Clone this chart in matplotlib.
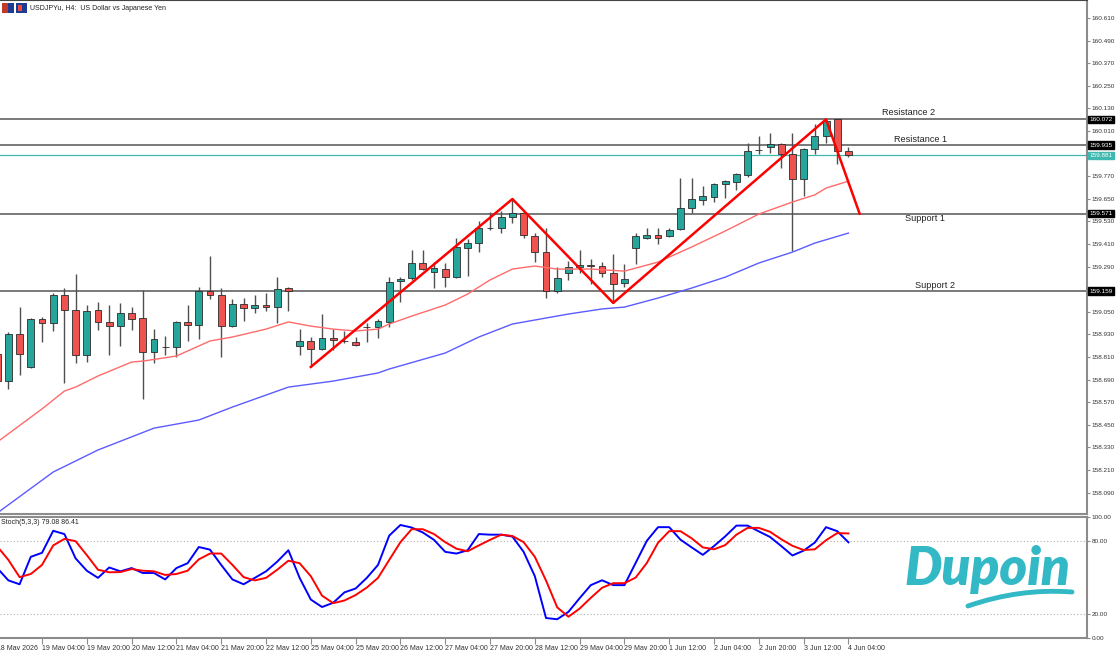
import matplotlib
matplotlib.use("Agg")
import matplotlib.pyplot as plt
import matplotlib.transforms as mtransforms
from matplotlib.patches import Rectangle, PathPatch
from matplotlib.path import Path
import numpy as np

plt.rcParams['font.family'] = ['Liberation Sans', 'DejaVu Sans']

# USDJPYu H4 bars, 18 May 2026 12:00 -> 4 Jun 2026 04:00
opens = [158.826, 158.682, 158.932, 158.757, 159.012, 158.990, 159.139, 159.059, 158.820, 159.059,
         158.996, 158.974, 159.043, 159.017, 158.836, 158.863, 158.863, 158.996, 158.980, 159.160,
         159.139, 158.974, 159.091, 159.070, 159.086, 159.075, 159.176, 158.868, 158.895, 158.853,
         158.911, 158.895, 158.889, 158.969, 158.969, 158.996, 159.213, 159.229, 159.309, 159.261,
         159.277, 159.234, 159.389, 159.415, 159.495, 159.495, 159.553, 159.574, 159.452, 159.367,
         159.160, 159.256, 159.288, 159.298, 159.293, 159.256, 159.203, 159.389, 159.442, 159.458,
         159.452, 159.489, 159.601, 159.643, 159.659, 159.728, 159.739, 159.776, 159.909, 159.925,
         159.941, 159.888, 159.755, 159.914, 159.983, 160.072, 159.904]
highs = [158.873, 158.942, 159.075, 159.017, 159.022, 159.150, 159.176, 159.250, 159.086, 159.102,
         159.086, 159.097, 159.075, 159.165, 158.958, 158.921, 159.001, 159.086, 159.181, 159.346,
         159.176, 159.118, 159.123, 159.139, 159.150, 159.234, 159.181, 158.958, 158.916, 159.038,
         158.958, 158.948, 158.916, 158.990, 159.012, 159.234, 159.234, 159.378, 159.378, 159.314,
         159.309, 159.442, 159.436, 159.532, 159.580, 159.585, 159.649, 159.580, 159.468, 159.495,
         159.288, 159.320, 159.378, 159.330, 159.314, 159.357, 159.304, 159.468, 159.495, 159.495,
         159.495, 159.760, 159.760, 159.718, 159.734, 159.750, 159.787, 159.946, 159.983, 159.999,
         159.946, 159.999, 159.920, 160.047, 160.072, 160.072, 159.925]
lows = [158.634, 158.640, 158.714, 158.750, 158.889, 158.948, 158.672, 158.778, 158.783, 158.953,
        158.820, 158.868, 158.953, 158.587, 158.778, 158.820, 158.810, 158.895, 158.905, 159.118,
        158.810, 158.969, 159.001, 159.043, 159.054, 158.990, 159.054, 158.820, 158.757, 158.847,
        158.847, 158.884, 158.868, 158.889, 158.911, 158.969, 159.102, 159.219, 159.272, 159.176,
        159.181, 159.229, 159.240, 159.367, 159.484, 159.468, 159.521, 159.442, 159.314, 159.123,
        159.150, 159.219, 159.256, 159.197, 159.234, 159.097, 159.181, 159.304, 159.436, 159.410,
        159.447, 159.484, 159.574, 159.617, 159.633, 159.654, 159.697, 159.766, 159.888, 159.893,
        159.813, 159.373, 159.665, 159.888, 159.946, 159.835, 159.872]
closes = [158.682, 158.932, 158.826, 159.012, 158.990, 159.139, 159.059, 158.820, 159.054, 158.996,
          158.974, 159.043, 159.012, 158.836, 158.905, 158.865, 158.996, 158.980, 159.160, 159.139,
          158.974, 159.091, 159.070, 159.086, 159.075, 159.171, 159.160, 158.895, 158.853, 158.911,
          158.900, 158.897, 158.873, 158.971, 159.001, 159.208, 159.224, 159.309, 159.277, 159.282,
          159.234, 159.394, 159.415, 159.495, 159.497, 159.553, 159.574, 159.458, 159.367, 159.160,
          159.229, 159.288, 159.298, 159.293, 159.256, 159.197, 159.224, 159.452, 159.458, 159.442,
          159.484, 159.601, 159.649, 159.665, 159.728, 159.744, 159.781, 159.904, 159.911, 159.941,
          159.888, 159.755, 159.914, 159.983, 160.063, 159.904, 159.881]

# moving averages (bar index, price)
ma_red_bars = [0, 4, 6, 7, 9, 12, 13, 16, 19, 21, 24, 26, 28, 30, 32, 34, 35, 37, 40, 42, 44,
               46, 48, 50, 53, 56, 59, 62, 65, 68, 71, 73, 74, 76]
ma_red = [158.358, 158.534, 158.629, 158.650, 158.709, 158.783, 158.788, 158.815, 158.895, 158.916,
          158.958, 158.996, 158.974, 158.958, 158.948, 158.958, 158.985, 159.027, 159.086, 159.144,
          159.219, 159.277, 159.293, 159.277, 159.277, 159.266, 159.314, 159.394, 159.479, 159.569,
          159.633, 159.671, 159.707, 159.744]
ma_blue_bars = [0, 5, 9, 14, 18, 21, 26, 30, 34, 35, 40, 43, 46, 49, 51, 54, 56, 59, 62, 65,
                68, 71, 73, 76]
ma_blue = [157.981, 158.199, 158.316, 158.432, 158.475, 158.544, 158.650, 158.682, 158.725, 158.746,
           158.831, 158.916, 158.985, 159.017, 159.038, 159.065, 159.075, 159.123, 159.176, 159.234,
           159.309, 159.367, 159.415, 159.468]

# zigzag pattern drawn on the chart
zz_bars = [28, 46, 55, 74, 77]
zz_prices = [158.757, 159.649, 159.097, 160.072, 159.571]

levels = [160.072, 159.935, 159.571, 159.159]
level_names = ["Resistance 2", "Resistance 1", "Support 1", "Support 2"]
last_price = 159.881

# Stochastic(5,3,3)
stoch_k = [57.8, 47.6, 44.4, 67.1, 70.4, 88.6, 85.9, 65.8, 55.6, 49.7,
           58.3, 55.1, 57.8, 53.7, 53.7, 48.4, 57.8, 61.8, 75.2, 73.0,
           60.4, 48.4, 44.4, 49.7, 55.1, 63.1, 72.5, 49.7, 31.8, 25.6,
           29.1, 37.7, 40.9, 49.7, 60.4, 84.6, 93.4, 91.3, 87.2, 81.1,
           71.2, 69.8, 72.5, 85.9, 85.4, 85.4, 83.8, 71.2, 51.1, 16.5,
           15.5, 21.6, 32.9, 43.7, 47.7, 43.7, 43.7, 62.0, 80.3, 91.6,
           91.6, 81.3, 74.9, 68.7, 76.0, 84.0, 92.9, 92.9, 88.1, 83.5,
           76.0, 68.2, 72.2, 78.9, 91.6, 88.3, 79.08]
stoch_d = [75.7, 64.5, 50.3, 52.9, 60.4, 76.5, 81.9, 80.0, 68.5, 56.4,
           54.3, 54.5, 57.0, 55.6, 55.1, 52.1, 52.9, 55.6, 65.0, 69.8,
           69.8, 60.4, 50.3, 47.6, 49.7, 56.4, 63.9, 61.8, 51.1, 35.0,
           28.8, 31.0, 35.5, 41.7, 49.7, 64.5, 79.2, 89.9, 89.9, 85.9,
           79.2, 73.8, 71.7, 76.5, 81.1, 85.4, 84.3, 79.2, 67.1, 47.5,
           25.3, 17.6, 24.3, 33.2, 41.5, 45.3, 45.3, 49.9, 62.0, 78.7,
           88.3, 88.3, 82.4, 74.9, 73.3, 76.8, 85.4, 91.0, 91.0, 87.8,
           81.6, 76.2, 72.7, 73.3, 80.8, 86.7, 86.41]

first_label = "18 May 2026"
time_labels = ["19 May 04:00", "19 May 20:00", "20 May 12:00", "21 May 04:00", "21 May 20:00",
               "22 May 12:00", "25 May 04:00", "25 May 20:00", "26 May 12:00", "27 May 04:00",
               "27 May 20:00", "28 May 12:00", "29 May 04:00", "29 May 20:00", "1 Jun 12:00",
               "2 Jun 04:00", "2 Jun 20:00", "3 Jun 12:00", "4 Jun 04:00"]

price_ticks = [158.090 + 0.12 * k for k in range(22)]

W, H = 1116, 650
fig = plt.figure(figsize=(W / 100, H / 100), dpi=100)
ax = fig.add_axes([0, 1 - 514 / H, 1087 / W, 514 / H])
ax2 = fig.add_axes([0, 12 / H, 1087 / W, 121 / H], sharex=ax)

teal = '#26A69A'
red = '#EF5350'
axis_grey = '#8c8c8c'
lab_fs = 4.6

o = np.array(opens)
hi = np.array(highs)
lo = np.array(lows)
c = np.array(closes)
idx = np.arange(len(o))
up = c >= o
bottom = np.minimum(o, c)
height = np.maximum(np.abs(c - o), 0.0015)

ax.vlines(idx, lo, hi, color='#505050', lw=1, zorder=2)
ax.bar(idx[up], height[up], bottom=bottom[up], width=0.62, color=teal,
       edgecolor='#2b2b2b', lw=0.6, zorder=3)
ax.bar(idx[~up], height[~up], bottom=bottom[~up], width=0.62, color=red,
       edgecolor='#2b2b2b', lw=0.6, zorder=3)

ax.plot(ma_red_bars, ma_red, color='#FF6B6B', lw=1, zorder=4)
ax.plot(ma_blue_bars, ma_blue, color='#5B5BFF', lw=1, zorder=4)
ax.plot(zz_bars, zz_prices, color='#FF0000', lw=1.8, zorder=5)

for lv in levels:
    ax.axhline(lv, color='#555555', lw=1.1, zorder=1)
ax.axhline(last_price, color='#3FB8AF', lw=0.9, zorder=1)

# level captions
cap_x = [81.4, 82.4, 82.8, 83.7]
cap_dy = [5.0, 4.3, -3.8, 4.3]
for name, lv, cx, dy in zip(level_names, levels, cap_x, cap_dy):
    ax.annotate(name, xy=(cx, lv), xytext=(0, dy), textcoords='offset points',
                ha='center', va='center', fontsize=6.6, color='#222222')

ax.set_xlim(0.25, 97.3)
ax.set_ylim(157.976, 160.706)
ax.yaxis.tick_right()
ax.set_yticks(price_ticks)
ax.set_yticklabels([f"{t:.3f}" for t in price_ticks])
ax.tick_params(axis='y', labelsize=lab_fs, length=2.5, color=axis_grey, pad=0.8, labelcolor='#333333')
ax.tick_params(axis='x', bottom=False, labelbottom=False)
ax.spines['left'].set_visible(False)
ax.spines['right'].set_color(axis_grey)
ax.spines['right'].set_linewidth(1.5)
ax.spines['bottom'].set_color(axis_grey)
ax.spines['bottom'].set_linewidth(1.5)
ax.spines['top'].set_color('#444444')

trans = mtransforms.blended_transform_factory(ax.transAxes, ax.transData)
for lv in levels:
    ax.text(1.0025, lv, f"{lv:.3f}", transform=trans, ha='left', va='center', fontsize=lab_fs,
            color='white', zorder=6, clip_on=False,
            bbox=dict(boxstyle='square,pad=0.2', fc='black', ec='black'))
ax.text(1.0025, last_price, f"{last_price:.3f}", transform=trans, ha='left', va='center',
        fontsize=lab_fs, color='white', zorder=6, clip_on=False,
        bbox=dict(boxstyle='square,pad=0.2', fc='#3FB8AF', ec='#3FB8AF'))

# stochastic panel
ax2.plot(idx, stoch_k, color='#0000FF', lw=1.4, zorder=3)
ax2.plot(idx, stoch_d, color='#FF0000', lw=1.4, zorder=3)
for g in [20, 80]:
    ax2.axhline(g, color='#b0b0b0', lw=0.8, ls=(0, (1, 2)), zorder=1)
ax2.set_ylim(0, 100)
ax2.yaxis.tick_right()
ax2.set_yticks([0, 20, 80, 100])
ax2.set_yticklabels(["0.00", "20.00", "80.00", "100.00"])
ax2.tick_params(axis='y', labelsize=lab_fs, length=2.5, color=axis_grey, pad=0.8, labelcolor='#333333')
ax2.set_xticks(list(range(4, 77, 4)))
ax2.set_xticklabels(time_labels)
ax2.tick_params(axis='x', labelsize=5, length=4, color=axis_grey, pad=1, labelcolor='#333333')
for lab in ax2.get_xticklabels():
    lab.set_horizontalalignment('left')
ax2.spines['left'].set_visible(False)
for s in ['right', 'bottom', 'top']:
    ax2.spines[s].set_color(axis_grey)
    ax2.spines[s].set_linewidth(1.5)
ax2.text(0, -0.085, first_label, transform=mtransforms.blended_transform_factory(ax2.transData, ax2.transAxes),
         ha='left', va='center', fontsize=5, color='#333333', clip_on=False)
ax2.text(0.0005, 0.955, f"Stoch(5,3,3) {stoch_k[-1]:.2f} {stoch_d[-1]:.2f}", transform=ax2.transAxes,
         ha='left', va='center', fontsize=5, color='#222222')

# header
fig.text(30 / W, 1 - 8 / H, "USDJPYu, H4:  US Dollar vs Japanese Yen", fontsize=5,
         ha='left', va='center', color='#222222')
fig.patches.append(Rectangle((2 / W, 1 - 13 / H), 6 / W, 10 / H, transform=fig.transFigure,
                             fc='#C0392B', ec='none'))
fig.patches.append(Rectangle((8 / W, 1 - 13 / H), 6 / W, 10 / H, transform=fig.transFigure,
                             fc='#1F3A93', ec='none'))
fig.patches.append(Rectangle((16 / W, 1 - 13 / H), 11 / W, 10 / H, transform=fig.transFigure,
                             fc='#1F3A93', ec='none'))
fig.patches.append(Rectangle((18 / W, 1 - 11 / H), 4 / W, 6 / H, transform=fig.transFigure,
                             fc='#E74C3C', ec='none'))

# watermark logo
logo_col = '#33B8C6'
fig.text(988 / W, 1 - 570 / H, "Dupoin", fontsize=38, color=logo_col, ha='center', va='center',
         fontweight='heavy', style='italic', family=['Lato', 'DejaVu Sans'])
swoosh = Path([(968 / W, 1 - 606 / H), (1020 / W, 1 - 588 / H), (1072 / W, 1 - 592 / H)],
              [Path.MOVETO, Path.CURVE3, Path.CURVE3])
fig.patches.append(PathPatch(swoosh, transform=fig.transFigure, fc='none', ec=logo_col, lw=3.5,
                             capstyle='round'))

fig.savefig("out.png", dpi=100)
